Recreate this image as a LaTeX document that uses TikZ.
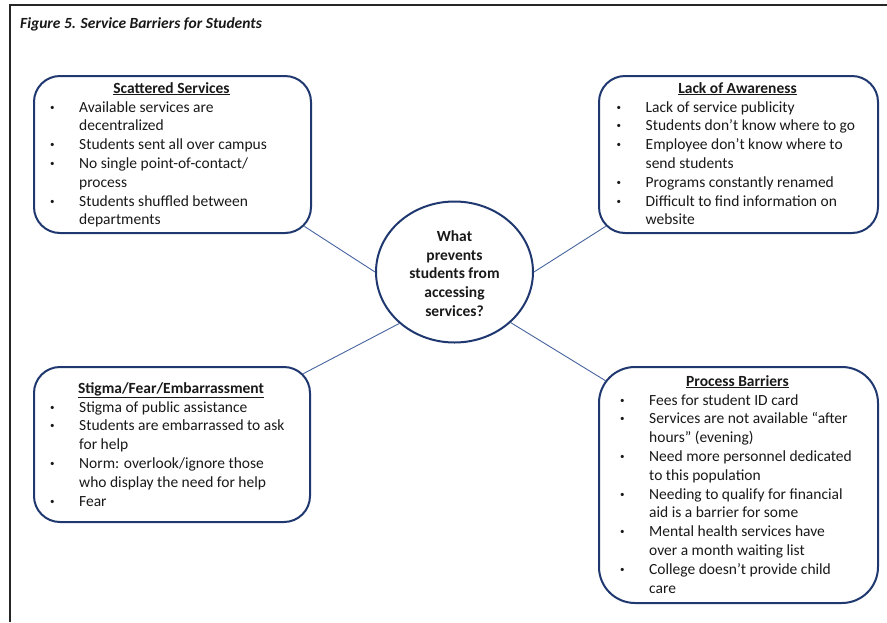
\documentclass[tikz,border=0pt]{standalone}
\usepackage{fontspec}
\setmainfont{Carlito}
\usetikzlibrary{shapes.geometric,calc}
\definecolor{navy}{RGB}{32,56,112}
\definecolor{conn}{RGB}{72,100,158}
\definecolor{txt}{RGB}{25,25,25}
\newcommand{\smallbul}{\hspace*{1pt}\raisebox{2pt}{\fontsize{9}{9}\selectfont\textbullet}}
\newcommand{\bul}[1]{\par\hangindent=30pt\hangafter=1\noindent\makebox[30pt][l]{\smallbul}#1\par}
\newcommand{\blist}[1]{\parbox[t]{280pt}{\fontsize{15.5}{18.8}\selectfont\rightskip=0pt plus 1fil\parskip=0pt #1}}
\tikzset{
  boxs/.style={draw=navy, line width=2pt, rectangle, inner sep=0pt, anchor=north west},
  heads/.style={anchor=base, inner sep=0pt, text=txt, font=\fontsize{15.5}{18.8}\selectfont\bfseries},
  lists/.style={anchor=base west, inner sep=0pt, text=txt},
  connector/.style={draw=conn, line width=0.9pt}
}
\begin{document}
\begin{tikzpicture}[x=1pt,y=-1pt]
\useasboundingbox (0,0) rectangle (887,622);
\fill[white] (0,0) rectangle (887,622);
\draw[line width=2pt, black!85] (10,622) -- (10,5) -- (887,5);

\node[anchor=base west, inner sep=0pt, text=txt, font=\fontsize{15.5}{18}\selectfont\bfseries\itshape] (title) at (20,28) {Figure 5. Service Barriers for Students};

% boxes
\node[boxs, rounded corners=26pt, minimum width=277pt, minimum height=157pt] (ss) at (33,75) {};
\node[boxs, rounded corners=26pt, minimum width=279pt, minimum height=157pt] (la) at (598,75) {};
\node[boxs, rounded corners=26pt, minimum width=276pt, minimum height=155pt] (sf) at (33,366) {};
\node[boxs, rounded corners=36pt, minimum width=279pt, minimum height=236pt] (pb) at (598,366) {};
\node[draw=navy, line width=2pt, ellipse, inner sep=0pt, minimum width=157pt, minimum height=141pt] (q) at (454.5,272) {};

% center text
\node[anchor=base, inner sep=0pt, text=txt] (qt) at (454.5,241.7) {\parbox[t]{130pt}{\fontsize{15.5}{18.6}\selectfont\bfseries\centering What\\prevents\\students from\\accessing\\services?}};

% headings
\node[heads] (ssh) at (171.5,93) {\underline{Scattered Services}};
\node[heads] (lah) at (737.5,93) {\underline{Lack of Awareness}};
\node[heads] (sfh) at (171,393) {\underline{Stigma/Fear/Embarrassment}};
\node[heads] (pbh) at (737.5,386) {\underline{Process Barriers}};

% lists
\node[lists] (ssl) at (49,112) {\blist{%
\bul{Available services are\newline decentralized}
\bul{Students sent all over campus}
\bul{No single point-of-contact/\newline process}
\bul{Students shuffled between\newline departments}}};

\node[lists] (lal) at (615.5,112) {\blist{%
\bul{Lack of service publicity}
\bul{Students don’t know where to go}
\bul{Employee don’t know where to\newline send students}
\bul{Programs constantly renamed}
\bul{Difficult to find information on\newline website}}};

\node[lists] (sfl) at (49,412) {\blist{%
\bul{Stigma of public assistance}
\bul{Students are embarrassed to ask\newline for help}
\bul{Norm: overlook/ignore those\newline who display the need for help}
\bul{Fear}}};

\node[lists] (pbl) at (619,405) {\blist{%
\bul{Fees for student ID card}
\bul{Services are not available “after\newline hours” (evening)}
\bul{Need more personnel dedicated\newline to this population}
\bul{Needing to qualify for financial\newline aid is a barrier for some}
\bul{Mental health services have\newline over a month waiting list}
\bul{College doesn’t provide child\newline care}}};

% connectors
\coordinate (ssc) at ($(ss.south east)+(-7.6,-7.6)$);
\coordinate (lac) at ($(la.south west)+(7.6,-7.6)$);
\coordinate (sfc) at ($(sf.north east)+(-7.6,7.6)$);
\coordinate (pbc) at ($(pb.north west)+(8,15)$);
\draw[connector] (ssc) -- (q.west);
\draw[connector] (lac) -- (q.east);
\draw[connector] (sfc) -- (q.223);
\draw[connector] (pbc) -- (q.-42);
\end{tikzpicture}
\end{document}
